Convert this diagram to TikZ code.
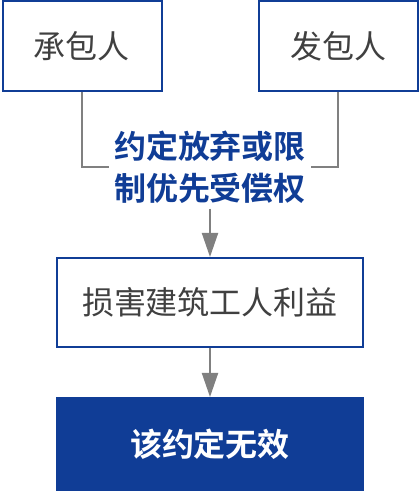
\documentclass[tikz,border=0pt]{standalone}
\usepackage{fontspec}
\setmainfont{Noto Sans CJK SC}[BoldFont={Noto Sans CJK SC Bold}]
\usepackage{tikz}
\usetikzlibrary{arrows.meta,positioning}
\definecolor{deepblue}{RGB}{16,61,150}
\definecolor{linegray}{RGB}{128,128,128}
\definecolor{textgray}{RGB}{64,64,64}
\tikzset{
  partybox/.style={draw=deepblue, line width=2pt, minimum width=159pt, minimum height=90pt, inner sep=0pt, text=textgray, font=\fontsize{32pt}{38pt}\selectfont},
  stepbox/.style={partybox, minimum width=306pt, minimum height=89pt},
  resultbox/.style={partybox, fill=deepblue, minimum width=306pt, minimum height=92pt, text=white, font=\fontsize{32pt}{38pt}\selectfont\bfseries},
  joinline/.style={draw=linegray, line width=2pt},
  flowarrow/.style={joinline, -{Triangle[width=16pt,length=24pt]}}
}
\begin{document}
\begin{tikzpicture}[x=1pt, y=1pt]
  \useasboundingbox (0,0) rectangle (420,491);
  \node[partybox] (contractor) at (82,444.5) {承包人};
  \node[partybox] (employer) at (338,444.5) {发包人};
  \node[align=center, text=deepblue, inner sep=5pt, font=\fontsize{32pt}{42pt}\selectfont\bfseries] (agreement) at (210,324) {约定放弃或限\\制优先受偿权};
  \node[stepbox] (harm) at (210,188.5) {损害建筑工人利益};
  \node[resultbox] (invalid) at (210,47) {该约定无效};
  \draw[joinline] (contractor.south) |- (agreement.west);
  \draw[joinline] (employer.south) |- (agreement.east);
  \draw[flowarrow] (agreement.south) -- (harm.north);
  \draw[flowarrow] (harm.south) -- (invalid.north);
\end{tikzpicture}
\end{document}
